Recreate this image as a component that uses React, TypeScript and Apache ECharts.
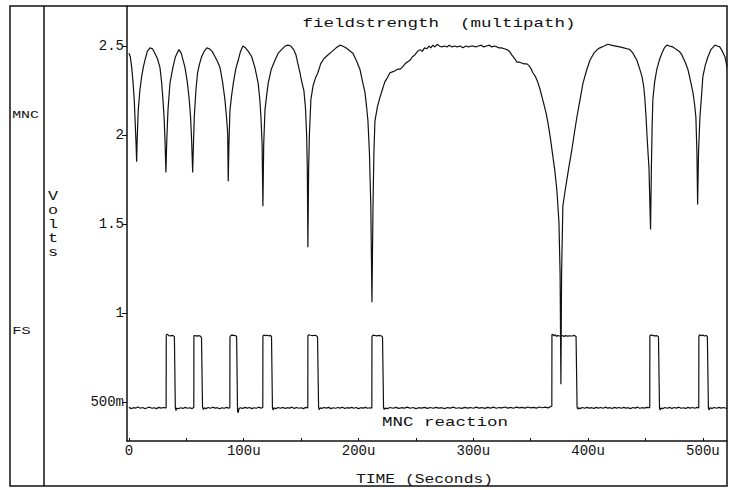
import React, { useEffect, useRef } from "react";
import * as echarts from "echarts";

// ---- data (time in µs, value in volts) ----
const X_LABEL_TICKS = [0, 100, 200, 300, 400, 500];
const X_MINOR_TICKS = [0, 50, 100, 150, 200, 250, 300, 350, 400, 450, 500];
const Y_LABEL_TICKS = [0.5, 1, 1.5, 2, 2.5];

const FIELDSTRENGTH: [number, number][] = [
  [0, 2.46], [1.2, 2.44], [2.4, 2.38], [3.5, 2.3], [4.6, 2.2], [5.5, 2.06], [6.2, 1.95], [6.7, 1.85], [7.2, 1.98], [8.1, 2.14],
  [9.5, 2.25], [11.1, 2.33], [12.5, 2.38], [13.9, 2.42], [16, 2.47], [18.3, 2.49], [20.5, 2.485], [22.6, 2.46], [24.8, 2.43], [27, 2.38],
  [28.4, 2.3], [29.6, 2.2], [30.6, 2.1], [31.4, 1.97], [32.2, 1.79], [33, 1.98], [34, 2.14], [35.7, 2.29], [38.3, 2.38], [40.5, 2.44],
  [42.7, 2.47], [43.6, 2.48], [45.5, 2.46], [47.2, 2.42], [48.8, 2.38], [50.8, 2.3], [52.5, 2.2], [53.7, 2.1], [54.6, 1.97], [55.5, 1.79],
  [56.2, 1.95], [56.9, 2.1], [58.3, 2.25], [59.8, 2.35], [61.5, 2.4], [63.3, 2.44], [65.5, 2.47], [67.9, 2.49], [70, 2.485], [72.5, 2.47],
  [75, 2.44], [77.3, 2.41], [79.3, 2.38], [81.5, 2.3], [83.6, 2.2], [85, 2.1], [86, 2.01], [86.5, 1.74], [87.1, 1.95], [88, 2.14],
  [89.4, 2.22], [90.9, 2.29], [93, 2.37], [95.2, 2.42], [97.2, 2.47], [99.3, 2.5], [101.5, 2.49], [104, 2.47], [106.9, 2.44], [109.7, 2.38],
  [112.6, 2.29], [114, 2.2], [115, 2.1], [116, 1.95], [116.7, 1.6], [117.4, 1.95], [118.5, 2.14], [119.9, 2.22], [121.3, 2.29], [124, 2.37],
  [127.2, 2.42], [130, 2.46], [133, 2.48], [136, 2.5], [138.5, 2.505], [141, 2.5], [143.5, 2.48], [145.5, 2.45], [147.2, 2.4], [149, 2.35],
  [150.5, 2.3], [152.4, 2.25], [153.8, 2.15], [154.8, 2.0], [155.4, 1.8], [155.9, 1.37], [156.5, 1.8], [157.2, 2.0], [158.5, 2.2], [160.5, 2.28],
  [162.5, 2.32], [164.6, 2.35], [167, 2.4], [170, 2.43], [173.3, 2.45], [177, 2.47], [180.5, 2.49], [183.8, 2.505], [186, 2.5], [189, 2.49],
  [192, 2.475], [195.1, 2.46], [198, 2.42], [201.2, 2.37], [203.5, 2.3], [205.6, 2.24], [207, 2.16], [208.2, 2.08], [209.5, 1.9], [210.7, 1.6],
  [211.7, 1.06], [212.6, 1.6], [213.4, 1.9], [214.3, 2.08], [216.5, 2.16], [218.6, 2.21], [221, 2.26], [223, 2.3], [225, 2.32], [227.4, 2.35],
  [229.5, 2.355], [231.5, 2.36], [234, 2.37], [236.1, 2.37], [238, 2.38], [240.5, 2.4], [242.5, 2.41], [244.8, 2.42], [247, 2.44], [249, 2.45],
  [251.5, 2.47], [253.5, 2.48], [255.5, 2.47], [257.5, 2.49], [259.5, 2.485], [261.5, 2.5], [263, 2.49], [264.8, 2.505], [266.5, 2.495], [268.5, 2.51],
  [270.5, 2.5], [272.5, 2.495], [275, 2.5], [277, 2.495], [279, 2.505], [281.5, 2.495], [284, 2.5], [286, 2.495], [288.5, 2.5], [291, 2.49],
  [293.5, 2.5], [296, 2.495], [298, 2.5], [300, 2.5], [302, 2.495], [304.5, 2.5], [307, 2.505], [309, 2.495], [311.5, 2.5], [314, 2.505],
  [316, 2.495], [318.5, 2.5], [320.6, 2.495], [322.5, 2.49], [324.5, 2.49], [327, 2.485], [329.3, 2.48], [331.5, 2.47], [333.5, 2.45], [336, 2.43],
  [338, 2.41], [340, 2.41], [342, 2.405], [344.5, 2.4], [346.7, 2.4], [348.5, 2.39], [350.5, 2.37], [351.9, 2.35], [354, 2.33], [356, 2.3],
  [358, 2.26], [360, 2.21], [362, 2.16], [363.5, 2.12], [365, 2.07], [367.2, 1.98], [369.3, 1.88], [371, 1.8], [372.8, 1.69], [374.6, 1.51],
  [375.6, 1.22], [376.3, 0.6], [376.9, 1.22], [378, 1.6], [379.8, 1.68], [381.5, 1.75], [383.5, 1.83], [385.9, 1.92], [388, 2.01], [390.2, 2.1],
  [393, 2.2], [395.5, 2.29], [398.5, 2.36], [401.6, 2.42], [405, 2.46], [408, 2.48], [410.3, 2.49], [414, 2.5], [417.2, 2.51], [420, 2.505],
  [424, 2.5], [427.7, 2.495], [431, 2.49], [434, 2.485], [436.4, 2.48], [439, 2.46], [442.5, 2.42], [445, 2.37], [446.9, 2.33], [448.5, 2.27],
  [449.5, 2.2], [450.5, 2.1], [451.2, 2.01], [452.2, 1.9], [453, 1.82], [454.4, 1.47], [455.2, 1.85], [455.8, 2.05], [456.4, 2.2], [458, 2.3],
  [459.9, 2.37], [462, 2.42], [464.3, 2.46], [466.5, 2.49], [468.6, 2.505], [471, 2.5], [473.9, 2.495], [477, 2.48], [479.5, 2.47], [481.7, 2.45],
  [484.5, 2.41], [486.9, 2.37], [489, 2.31], [491.3, 2.24], [492.8, 2.17], [493.9, 2.1], [494.8, 1.9], [495.4, 1.61], [496.2, 1.9], [497.4, 2.1],
  [498.8, 2.22], [500, 2.33], [502, 2.39], [504.4, 2.44], [507, 2.48], [510.5, 2.505], [512.5, 2.5], [514.8, 2.495], [517, 2.47], [519.2, 2.44],
  [520.2, 2.41], [521, 2.38],
];

const MNC_REACTION: [number, number][] = [
  [0, 0.47], [2, 0.463], [4, 0.468], [6, 0.466], [8, 0.472], [10, 0.465], [12, 0.469], [14, 0.462], [16, 0.468], [18, 0.471],
  [20, 0.465], [22, 0.468], [24, 0.463], [26, 0.47], [28, 0.466], [30, 0.469], [32.4, 0.467],
  [32.5, 0.878], [33.5, 0.881], [34.6, 0.873], [36, 0.872], [37.5, 0.874], [38.8, 0.872], [39.6, 0.866], [40.4, 0.468], [41, 0.452], [41.6, 0.466],
  [43, 0.462], [45, 0.468], [47, 0.464], [49, 0.47], [51, 0.465], [53, 0.468], [55, 0.463], [56.5, 0.469],
  [56.6, 0.872], [57.6, 0.874], [59, 0.87], [60.5, 0.873], [62, 0.871], [63.2, 0.862], [64.1, 0.47], [64.8, 0.458], [65.5, 0.467],
  [67, 0.463], [69, 0.469], [71, 0.465], [73, 0.471], [75, 0.466], [77, 0.468], [79, 0.462], [81, 0.468], [83, 0.465], [85, 0.47], [87, 0.466], [87.9, 0.468],
  [88, 0.865], [88.8, 0.874], [90, 0.876], [91.5, 0.874], [93, 0.873], [93.8, 0.866], [94.6, 0.45], [95.2, 0.44], [95.8, 0.462],
  [97, 0.468], [99, 0.464], [101, 0.47], [103, 0.466], [105, 0.469], [107, 0.463], [109, 0.468], [111, 0.465], [113, 0.471], [115, 0.466], [116.6, 0.469],
  [116.7, 0.87], [117.5, 0.876], [119, 0.873], [120.5, 0.875], [122, 0.872], [123.5, 0.874], [124.2, 0.865], [125, 0.47], [125.6, 0.455], [126.3, 0.467],
  [128, 0.463], [130, 0.469], [132, 0.465], [134, 0.47], [136, 0.464], [138, 0.468], [140, 0.466], [142, 0.471], [144, 0.464], [146, 0.469],
  [148, 0.465], [150, 0.468], [152, 0.463], [154, 0.47], [155.8, 0.467],
  [155.9, 0.872], [156.8, 0.878], [158, 0.875], [160, 0.873], [162, 0.875], [163.5, 0.872], [164.3, 0.865], [165.2, 0.468], [165.8, 0.457], [166.5, 0.467],
  [168, 0.464], [170, 0.469], [172, 0.466], [174, 0.47], [176, 0.463], [178, 0.468], [180, 0.465], [182, 0.469], [184, 0.466], [186, 0.471],
  [188, 0.464], [190, 0.468], [192, 0.466], [194, 0.47], [196, 0.465], [198, 0.469], [200, 0.463], [202, 0.468], [204, 0.466], [206, 0.47],
  [208, 0.465], [210, 0.468], [211.6, 0.466],
  [211.7, 0.868], [212.6, 0.876], [214, 0.874], [216, 0.872], [218, 0.874], [220, 0.871], [220.9, 0.865], [221.8, 0.468], [222.4, 0.458], [223.2, 0.466],
  [225, 0.463], [227.5, 0.469], [230, 0.465], [232.5, 0.47], [235, 0.464], [237.5, 0.468], [240, 0.466], [242.5, 0.471], [245, 0.465], [247.5, 0.469],
  [250, 0.463], [252.5, 0.468], [255, 0.466], [257.5, 0.47], [260, 0.464], [262.5, 0.469], [265, 0.465], [267.5, 0.47], [270, 0.466], [272.5, 0.468],
  [275, 0.463], [277.5, 0.469], [280, 0.466], [282.5, 0.471], [285, 0.465], [287.5, 0.468], [290, 0.464], [292.5, 0.47], [295, 0.466], [297.5, 0.469],
  [300, 0.465], [302.5, 0.471], [305, 0.466], [307.5, 0.469], [310, 0.464], [312.5, 0.47], [315, 0.466], [317.5, 0.471], [320, 0.465], [322.5, 0.469],
  [325, 0.467], [327.5, 0.472], [330, 0.466], [332.5, 0.47], [335, 0.465], [337.5, 0.471], [340, 0.467], [342.5, 0.47], [345, 0.466], [347.5, 0.472],
  [350, 0.467], [352.5, 0.47], [355, 0.466], [357.5, 0.472], [360, 0.468], [362.5, 0.471], [365, 0.467], [367, 0.473], [368.4, 0.476],
  [368.5, 0.88], [369.5, 0.878], [370.5, 0.872], [371.5, 0.878], [372.5, 0.868], [373.5, 0.874], [375, 0.871], [376.2, 0.87], [377.5, 0.874], [379, 0.869],
  [380.5, 0.873], [382, 0.87], [384, 0.872], [386, 0.871], [388, 0.874], [389.5, 0.868], [390.4, 0.47], [391, 0.46], [391.7, 0.467],
  [393, 0.463], [395, 0.469], [397, 0.465], [399, 0.47], [401, 0.466], [403, 0.468], [405, 0.464], [407, 0.47], [409, 0.466], [411, 0.469],
  [413, 0.465], [415, 0.471], [417, 0.466], [419, 0.468], [421, 0.464], [423, 0.47], [425, 0.466], [427, 0.469], [429, 0.465], [431, 0.47],
  [433, 0.466], [435, 0.468], [437, 0.463], [439, 0.469], [441, 0.466], [443, 0.471], [445, 0.465], [447, 0.468], [449, 0.466], [451, 0.47], [453.7, 0.468],
  [453.8, 0.872], [454.8, 0.877], [456, 0.874], [458, 0.872], [460, 0.873], [461.3, 0.866], [462.2, 0.466], [462.8, 0.455], [463.5, 0.466],
  [465, 0.463], [467, 0.469], [469, 0.465], [471, 0.47], [473, 0.464], [475, 0.469], [477, 0.466], [479, 0.471], [481, 0.465], [483, 0.468],
  [485, 0.464], [487, 0.47], [489, 0.466], [491, 0.469], [493, 0.465], [495, 0.47], [496.4, 0.467],
  [496.5, 0.87], [497.3, 0.878], [498.5, 0.872], [500, 0.876], [501.5, 0.871], [503, 0.874], [503.9, 0.866], [504.8, 0.466], [505.4, 0.455], [506, 0.467],
  [508, 0.464], [510, 0.469], [512, 0.465], [514, 0.47], [516, 0.466], [518, 0.469], [520, 0.465], [521, 0.468],
];

const TITLE = "fieldstrength  (multipath)";
const SUBTITLE = "MNC reaction";
const X_NAME = "TIME (Seconds)";
const Y_NAME = "Volts";
const SIDE_TOP = "MNC";
const SIDE_BOTTOM = "FS";

const FONT = '"Liberation Mono", "DejaVu Sans Mono", monospace';
const INK = "#111";

function txt(text: string, x: number, y: number, size: number, sx: number, extra: any = {}) {
  return {
    type: "text",
    x,
    y,
    scaleX: sx,
    silent: true,
    style: {
      text,
      fill: INK,
      fontSize: size,
      fontFamily: FONT,
      textAlign: "center",
      align: "center",
      textVerticalAlign: "middle",
      verticalAlign: "middle",
      ...extra,
    },
  };
}

export default function App() {
  const ref = useRef<HTMLDivElement>(null);

  useEffect(() => {
    if (!ref.current) return;
    const chart = echarts.init(ref.current, undefined, { renderer: "svg" });
    const option: any = {
      animation: false,
      backgroundColor: "#fff",
      grid: { left: 127, top: 6, right: 4, bottom: 49 },
      xAxis: {
        type: "value",
        min: -1.7,
        max: 521,
        axisLine: { show: true, onZero: false, lineStyle: { color: INK, width: 1.5 } },
        axisTick: { show: true, inside: true, length: 3, customValues: X_MINOR_TICKS, lineStyle: { color: INK, width: 1 } },
        axisLabel: {
          customValues: X_LABEL_TICKS,
          formatter: (v: number) => (v === 0 ? "0" : `${v}u`),
          color: INK,
          fontFamily: FONT,
          fontSize: 14,
          margin: 3,
        },
        splitLine: { show: false },
      },
      yAxis: {
        type: "value",
        min: 0.281,
        max: 2.725,
        axisLine: { show: true, onZero: false, lineStyle: { color: INK, width: 1.5 } },
        axisTick: { show: true, inside: false, length: 5, customValues: Y_LABEL_TICKS, lineStyle: { color: INK, width: 1 } },
        axisLabel: {
          customValues: Y_LABEL_TICKS,
          formatter: (v: number) => (v === 0.5 ? "500m" : String(v)),
          color: INK,
          fontFamily: FONT,
          fontSize: 14,
          margin: 3,
        },
        splitLine: { show: false },
      },
      series: [
        {
          name: "fieldstrength",
          type: "line",
          data: FIELDSTRENGTH,
          showSymbol: false,
          symbol: "none",
          silent: true,
          lineStyle: { color: INK, width: 1.2 },
        },
        {
          name: "MNC reaction",
          type: "line",
          data: MNC_REACTION,
          showSymbol: false,
          symbol: "none",
          silent: true,
          lineStyle: { color: INK, width: 1.2 },
        },
      ],
      graphic: [
        {
          type: "rect",
          silent: true,
          shape: { x: 10, y: 6, width: 717, height: 480 },
          style: { fill: "none", stroke: INK, lineWidth: 1.5 },
        },
        {
          type: "line",
          silent: true,
          shape: { x1: 44, y1: 6, x2: 44, y2: 486 },
          style: { stroke: INK, lineWidth: 1.5 },
        },
        txt(TITLE, 439, 24, 12, 1.46),
        txt(SUBTITLE, 445, 423, 12, 1.46),
        txt(X_NAME, 424.5, 480, 12, 1.36),
        txt(SIDE_TOP, 25.5, 115, 11, 1.35),
        txt(SIDE_BOTTOM, 21.5, 331, 11, 1.4),
        txt(Y_NAME.split("").join("\n"), 53, 225, 12, 1.4, { lineHeight: 14 }),
      ],
    };
    chart.setOption(option);
    return () => chart.dispose();
  }, []);

  return (
    <div
      ref={ref}
      style={{ position: "fixed", left: 0, top: 0, width: 731, height: 490, background: "#fff" }}
    />
  );
}
